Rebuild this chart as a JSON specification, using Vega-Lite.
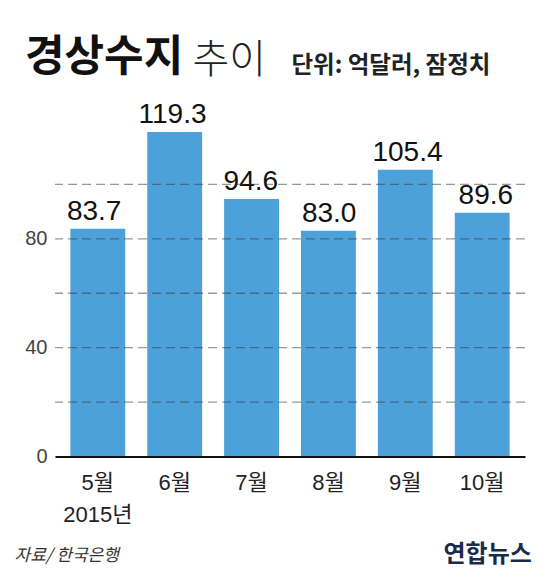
{
  "$schema": "https://vega.github.io/schema/vega-lite/v6.json",
  "width": 470,
  "height": 326.5,
  "autosize": {"type": "none"},
  "padding": {"left": 55, "top": 130, "right": 25, "bottom": 126.5},
  "background": "white",
  "config": {"view": {"stroke": null}},
  "title": {
    "text": "경상수지",
    "anchor": "start",
    "frame": "group",
    "font": "Noto Sans CJK KR",
    "fontSize": 43,
    "fontWeight": "bold",
    "color": "#111111",
    "dx": -30,
    "dy": 44
  },
  "datasets": {
    "bars": [
      {"month": "5월", "value": 83.7},
      {"month": "6월", "value": 119.3},
      {"month": "7월", "value": 94.6},
      {"month": "8월", "value": 83.0},
      {"month": "9월", "value": 105.4},
      {"month": "10월", "value": 89.6}
    ],
    "grid": [
      {"level": 20},
      {"level": 40},
      {"level": 60},
      {"level": 80},
      {"level": 100}
    ]
  },
  "layer": [
    {
      "data": {"name": "bars"},
      "mark": {"type": "bar", "color": "#4da1da"},
      "encoding": {
        "x": {
          "field": "month",
          "type": "nominal",
          "sort": null,
          "scale": {"paddingInner": 0.286, "paddingOuter": 0.2},
          "axis": {
            "labelExpr": "datum.value == '5월' ? ['5월', '2015년'] : datum.label",
            "labelAngle": 0,
            "labelFont": "Liberation Sans, Noto Sans CJK KR",
            "labelFontSize": 22,
            "labelColor": "#222222",
            "labelPadding": 16,
            "labelLineHeight": 32,
            "labelBaseline": "top",
            "ticks": false,
            "domainColor": "#111111",
            "domainWidth": 2,
            "zindex": 2,
            "title": "자료/ 한국은행",
            "titleX": -41,
            "titleY": 104,
            "titleAlign": "left",
            "titleBaseline": "alphabetic",
            "titleFont": "Noto Sans CJK KR",
            "titleFontSize": 17,
            "titleFontStyle": "italic",
            "titleFontWeight": "normal",
            "titleColor": "#333333"
          }
        },
        "y": {
          "field": "value",
          "type": "quantitative",
          "scale": {"domain": [0, 120], "nice": false},
          "axis": {
            "values": [0, 40, 80],
            "domain": false,
            "ticks": false,
            "grid": false,
            "labelPadding": 8,
            "labelFont": "Liberation Sans",
            "labelFontSize": 20,
            "labelColor": "#444444",
            "title": "추이",
            "titleAngle": 0,
            "titleAlign": "left",
            "titleBaseline": "alphabetic",
            "titleX": 137,
            "titleY": -58,
            "titleFont": "Noto Sans CJK KR",
            "titleFontSize": 40,
            "titleFontWeight": 300,
            "titleColor": "#222222"
          }
        }
      }
    },
    {
      "data": {"name": "bars"},
      "mark": {
        "type": "text",
        "baseline": "alphabetic",
        "dy": -9,
        "font": "Liberation Sans",
        "fontSize": 28,
        "color": "#111111"
      },
      "encoding": {
        "x": {
          "field": "month",
          "type": "nominal",
          "sort": null,
          "scale": {"paddingInner": 0.286, "paddingOuter": 0.2},
          "axis": {
            "labels": false,
            "ticks": false,
            "domain": false,
            "grid": false,
            "title": "연합뉴스",
            "titleX": 388,
            "titleY": 431,
            "titleAlign": "left",
            "titleBaseline": "alphabetic",
            "titleFont": "Noto Sans CJK KR",
            "titleFontSize": 24,
            "titleFontWeight": "bold",
            "titleColor": "#1a2a4a"
          }
        },
        "y": {
          "field": "value",
          "type": "quantitative",
          "scale": {"domain": [0, 120], "nice": false},
          "axis": {
            "labels": false,
            "ticks": false,
            "domain": false,
            "grid": false,
            "title": "단위: 억달러, 잠정치",
            "titleAngle": 0,
            "titleAlign": "left",
            "titleBaseline": "alphabetic",
            "titleX": -234,
            "titleY": -58,
            "titleFont": "Noto Sans CJK KR",
            "titleFontSize": 23.5,
            "titleFontWeight": "bold",
            "titleColor": "#222222"
          }
        },
        "text": {"field": "value", "type": "quantitative", "format": ".1f"}
      }
    },
    {
      "data": {"name": "grid"},
      "mark": {
        "type": "rule",
        "color": "#333333",
        "opacity": 0.5,
        "strokeWidth": 1.4,
        "strokeDash": [9, 5]
      },
      "encoding": {
        "y": {
          "field": "level",
          "type": "quantitative",
          "scale": {"domain": [0, 120], "nice": false},
          "axis": null
        }
      }
    }
  ],
  "resolve": {"scale": {"x": "independent", "y": "independent"}, "axis": {"x": "independent", "y": "independent"}}
}
